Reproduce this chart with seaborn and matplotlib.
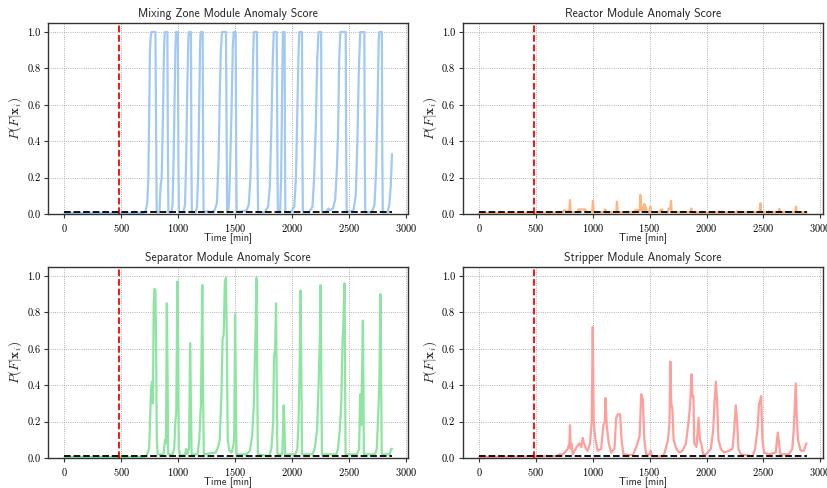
import matplotlib
matplotlib.use("Agg")
import matplotlib.pyplot as plt
import seaborn as sns
import pandas as pd

# ---------------- Data ----------------
titles = ["Mixing Zone Module Anomaly Score", "Reactor Module Anomaly Score",
          "Separator Module Anomaly Score", "Stripper Module Anomaly Score"]
fault_time = 480
threshold = 0.01
t_start, t_end = 0, 2879

mix_t = [0, 700, 715, 728, 738, 745, 752, 758, 765, 800, 806, 811,
         835, 845, 855, 865, 875, 882, 905, 910, 914,
         940, 950, 958, 965, 975, 982, 997, 1002, 1006,
         1045, 1060, 1070, 1080, 1090, 1095, 1112, 1116, 1120,
         1155, 1165, 1175, 1185, 1193, 1198, 1215, 1219, 1223,
         1250, 1290, 1320, 1340, 1355, 1365, 1375, 1385, 1420, 1426, 1430,
         1440, 1448, 1458, 1470, 1480, 1488, 1505, 1510, 1514,
         1560, 1600, 1620, 1635, 1648, 1658, 1665, 1692, 1697, 1702,
         1760, 1790, 1805, 1818, 1830, 1840, 1866, 1872, 1876,
         1895, 1905, 1912, 1920, 1935, 1939, 1942,
         1990, 2020, 2035, 2048, 2058, 2065, 2088, 2092, 2096,
         2150, 2180, 2195, 2210, 2222, 2233, 2256, 2260, 2264,
         2300, 2320, 2330, 2360, 2380, 2395, 2405, 2415, 2425, 2472, 2477, 2481,
         2540, 2560, 2575, 2588, 2600, 2636, 2640, 2644,
         2700, 2725, 2740, 2752, 2762, 2768, 2790, 2794, 2798,
         2840, 2855, 2868, 2879]
mix_p = [0.005, 0.006, 0.02, 0.06, 0.2, 0.55, 0.9, 0.97, 1.0, 1.0, 0.5, 0.01,
         0.01, 0.15, 0.2, 0.5, 0.9, 1.0, 1.0, 0.3, 0.01,
         0.01, 0.05, 0.25, 0.5, 0.9, 1.0, 1.0, 0.3, 0.01,
         0.01, 0.05, 0.3, 0.7, 0.97, 1.0, 1.0, 0.3, 0.01,
         0.01, 0.04, 0.2, 0.6, 0.95, 1.0, 1.0, 0.3, 0.01,
         0.015, 0.01, 0.02, 0.06, 0.3, 0.65, 0.9, 1.0, 1.0, 0.4, 0.01,
         0.02, 0.08, 0.3, 0.6, 0.92, 1.0, 1.0, 0.3, 0.01,
         0.015, 0.02, 0.05, 0.2, 0.5, 0.85, 1.0, 1.0, 0.3, 0.01,
         0.01, 0.04, 0.15, 0.45, 0.82, 1.0, 1.0, 0.3, 0.01,
         0.01, 0.2, 0.6, 1.0, 1.0, 0.3, 0.01,
         0.01, 0.04, 0.2, 0.6, 0.9, 1.0, 1.0, 0.3, 0.01,
         0.01, 0.04, 0.2, 0.5, 0.85, 1.0, 1.0, 0.3, 0.01,
         0.01, 0.03, 0.02, 0.03, 0.08, 0.25, 0.45, 0.85, 1.0, 1.0, 0.3, 0.01,
         0.02, 0.1, 0.4, 0.8, 1.0, 1.0, 0.3, 0.01,
         0.01, 0.05, 0.25, 0.6, 0.95, 1.0, 1.0, 0.3, 0.01,
         0.01, 0.05, 0.15, 0.33]

reac_t = [0, 740, 745, 760, 765, 795, 800, 805, 870, 875, 935, 940,
          995, 1002, 1008, 1105, 1110, 1115, 1207, 1213, 1219,
          1370, 1374, 1403, 1408, 1413, 1418, 1428, 1433, 1448, 1453, 1463, 1468, 1473,
          1500, 1506, 1512, 1590, 1594, 1609, 1614, 1662, 1667, 1682, 1688, 1694,
          1860, 1866, 1872, 2102, 2107, 2112, 2263, 2268, 2273,
          2467, 2473, 2479, 2541, 2546, 2551, 2635, 2640, 2645, 2780, 2786, 2792, 2879]
reac_p = [0.005, 0.008, 0.02, 0.02, 0.008, 0.02, 0.077, 0.01, 0.01, 0.025, 0.025, 0.01,
          0.01, 0.074, 0.01, 0.01, 0.025, 0.008, 0.01, 0.068, 0.01,
          0.01, 0.02, 0.02, 0.01, 0.02, 0.105, 0.02, 0.04, 0.02, 0.055, 0.02, 0.035, 0.01,
          0.01, 0.04, 0.01, 0.01, 0.02, 0.025, 0.01, 0.01, 0.03, 0.03, 0.072, 0.01,
          0.01, 0.03, 0.008, 0.008, 0.015, 0.008, 0.008, 0.015, 0.008,
          0.01, 0.06, 0.01, 0.008, 0.015, 0.008, 0.01, 0.028, 0.01, 0.01, 0.04, 0.01, 0.008]

sep_t = [0, 700, 720, 745, 755, 762, 770, 778, 785, 792, 800, 806, 812, 820,
         870, 885, 893, 900, 906, 912,
         950, 965, 975, 983, 993, 1000, 1005, 1020,
         1060, 1070, 1080, 1095, 1105, 1112, 1118,
         1170, 1185, 1200, 1212, 1218, 1225,
         1330, 1350, 1365, 1380, 1390, 1400, 1410, 1420, 1428, 1435, 1450, 1470, 1488, 1493, 1500, 1505, 1512,
         1600, 1630, 1650, 1665, 1680, 1688, 1694, 1700,
         1800, 1819, 1835, 1842, 1852, 1860, 1866, 1872,
         1915, 1927, 1933, 1939,
         2030, 2047, 2058, 2064, 2070, 2076, 2082, 2088,
         2180, 2199, 2220, 2234, 2245, 2251, 2257, 2263,
         2390, 2404, 2420, 2433, 2445, 2450, 2462, 2466, 2471,
         2570, 2590, 2599, 2608, 2617, 2623, 2628, 2632,
         2730, 2745, 2754, 2762, 2769, 2778, 2784, 2789,
         2860, 2871, 2879]
sep_p = [0.005, 0.006, 0.01, 0.05, 0.25, 0.38, 0.42, 0.3, 0.85, 0.93, 0.92, 0.6, 0.1, 0.02,
         0.02, 0.1, 0.08, 0.85, 0.5, 0.02,
         0.02, 0.05, 0.2, 0.25, 0.97, 0.6, 0.05, 0.01,
         0.02, 0.05, 0.02, 0.05, 0.63, 0.3, 0.02,
         0.02, 0.1, 0.3, 0.95, 0.4, 0.02,
         0.03, 0.06, 0.1, 0.35, 0.65, 0.68, 0.97, 0.99, 0.6, 0.1, 0.04, 0.03, 0.08, 0.15, 0.79, 0.5, 0.02,
         0.02, 0.04, 0.12, 0.3, 0.7, 0.99, 0.5, 0.02,
         0.01, 0.05, 0.2, 0.55, 0.6, 0.85, 0.4, 0.02,
         0.02, 0.29, 0.2, 0.02,
         0.02, 0.05, 0.2, 0.4, 0.6, 0.92, 0.5, 0.02,
         0.02, 0.05, 0.15, 0.4, 0.65, 0.95, 0.5, 0.02,
         0.02, 0.05, 0.15, 0.3, 0.65, 0.7, 0.96, 0.5, 0.02,
         0.02, 0.05, 0.35, 0.18, 0.5, 0.755, 0.4, 0.02,
         0.02, 0.05, 0.18, 0.3, 0.45, 0.9, 0.4, 0.02,
         0.02, 0.05, 0.05]

strip_t = [0, 680, 706, 740, 780, 795, 800, 806, 812, 824, 859, 882, 900, 912, 924, 941,
           956, 976, 991, 1000, 1009, 1024, 1044, 1074, 1094, 1106, 1112, 1123, 1141, 1162,
           1191, 1206, 1220, 1241, 1253, 1270, 1353, 1388, 1412, 1426, 1441, 1453, 1470,
           1500, 1510, 1520, 1617, 1632, 1662, 1675, 1682, 1690, 1700, 1711, 1735, 1760,
           1789, 1819, 1842, 1857, 1868, 1877, 1885, 1892, 1912, 1930, 1942, 1953, 1971, 1994,
           2038, 2058, 2070, 2082, 2094, 2105, 2126, 2155, 2199, 2228, 2243, 2257, 2269, 2281,
           2301, 2404, 2427, 2447, 2462, 2470, 2480, 2491, 2506, 2550, 2608, 2626, 2637, 2649,
           2725, 2754, 2769, 2784, 2793, 2804, 2827, 2856, 2871, 2879]
strip_p = [0.005, 0.01, 0.02, 0.02, 0.05, 0.08, 0.18, 0.05, 0.08, 0.02, 0.06, 0.08, 0.06, 0.11, 0.08, 0.05,
           0.04, 0.08, 0.2, 0.72, 0.2, 0.1, 0.04, 0.05, 0.18, 0.2, 0.33, 0.18, 0.08, 0.03,
           0.05, 0.22, 0.24, 0.24, 0.1, 0.02, 0.015, 0.07, 0.12, 0.35, 0.32, 0.1, 0.02,
           0.02, 0.04, 0.01, 0.01, 0.03, 0.1, 0.2, 0.53, 0.3, 0.27, 0.1, 0.05, 0.03,
           0.04, 0.08, 0.2, 0.3, 0.46, 0.34, 0.34, 0.08, 0.06, 0.22, 0.1, 0.08, 0.02, 0.02,
           0.05, 0.15, 0.3, 0.42, 0.3, 0.1, 0.05, 0.03, 0.04, 0.05, 0.15, 0.29, 0.2, 0.05,
           0.02, 0.01, 0.05, 0.15, 0.3, 0.31, 0.34, 0.1, 0.03, 0.02, 0.03, 0.14, 0.08, 0.02,
           0.02, 0.05, 0.18, 0.41, 0.23, 0.1, 0.04, 0.04, 0.07, 0.08]

series = [(mix_t, mix_p), (reac_t, reac_p), (sep_t, sep_p), (strip_t, strip_p)]

# ---------------- Style ----------------
sns.set_style("ticks")
colors = sns.color_palette("pastel")
plt.rcParams["font.family"] = ["cmr10", "DejaVu Serif"]
plt.rcParams["mathtext.fontset"] = "cm"
plt.rcParams["axes.formatter.use_mathtext"] = True
plt.rcParams["axes.edgecolor"] = "#333333"
plt.rcParams["axes.linewidth"] = 1.0

fig, axes = plt.subplots(2, 2, figsize=(8.28, 4.88), dpi=100)
fig.subplots_adjust(left=0.058, right=0.994, top=0.953, bottom=0.0615,
                    wspace=0.15, hspace=0.277)

for i, ax in enumerate(axes.flat):
    t, p = series[i]
    df = pd.DataFrame({"t": t, "p": p})
    sns.lineplot(data=df, x="t", y="p", ax=ax, color=colors[i], lw=1.6)
    ax.axvline(fault_time, color="red", ls="--", lw=1.3)
    ax.hlines(threshold, t_start, t_end, color="black", ls="--", lw=1.3)
    ax.set_ylim(0, 1.05)
    ax.set_xlim(-144, 3024)
    ax.set_xticks([0, 500, 1000, 1500, 2000, 2500, 3000])
    ax.set_yticks([0.0, 0.2, 0.4, 0.6, 0.8, 1.0])
    ax.set_yticklabels(["0.0", "0.2", "0.4", "0.6", "0.8", "1.0"])
    ax.grid(True, ls=":", lw=0.6, color="#999999")
    ax.tick_params(labelsize=7.5, length=3, width=0.8, pad=2.5,
                   colors="#333333", labelcolor="black")
    ax.set_title(titles[i], fontfamily="cmss10", fontsize=8.5, pad=4)
    ax.set_xlabel("Time [min]", fontfamily="cmss10", fontsize=7.5, labelpad=-1)
    ax.set_ylabel(r"$P(F|\mathbf{x}_i)$", fontsize=9.5, labelpad=2)

fig.savefig("out.png", dpi=100)
